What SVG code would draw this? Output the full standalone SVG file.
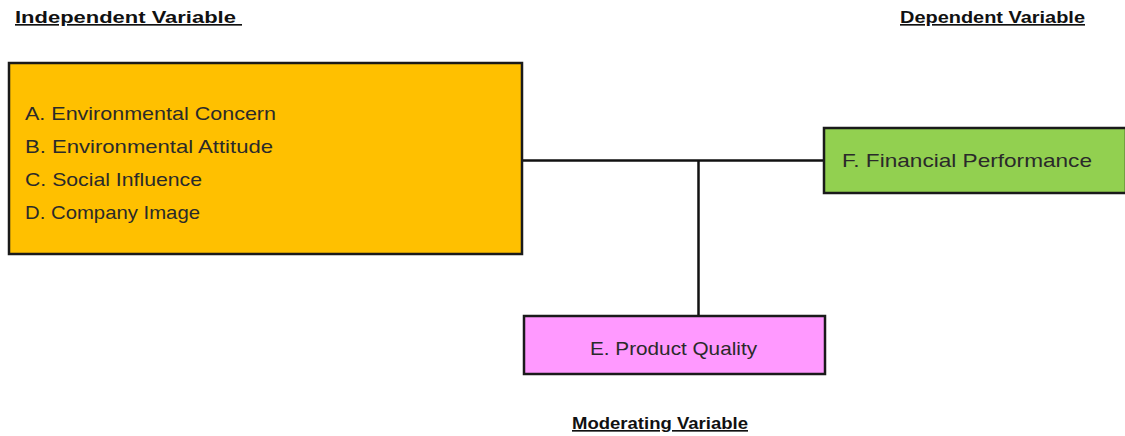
<svg xmlns="http://www.w3.org/2000/svg" width="1125" height="436" viewBox="0 0 1125 436">
<style>
.box{stroke:#1a1a1a;stroke-width:2.5}
.t{font-family:"Liberation Sans",Arial,sans-serif;font-size:19px;fill:#2a2a2a}
.h{font-family:"Liberation Sans",Arial,sans-serif;font-size:16.5px;font-weight:bold;fill:#111;text-decoration:underline}
.c{stroke:#111;stroke-width:2.5;fill:none}
</style>
<rect width="1125" height="436" fill="#fff"/>
<g id="headers">
<text class="h" x="15" y="23" textLength="227" lengthAdjust="spacingAndGlyphs">Independent Variable&#160;</text>
<text class="h" x="900" y="23" textLength="185" lengthAdjust="spacingAndGlyphs">Dependent Variable</text>
<text class="h" x="572" y="429" textLength="176" lengthAdjust="spacingAndGlyphs">Moderating Variable</text>
</g>
<g id="connectors">
<path class="c" d="M522 160.5 H824"/>
<path class="c" d="M698.5 160.5 V316"/>
</g>
<g id="node-independent">
<rect class="box" x="9" y="63" width="513" height="191" fill="#FFC000"/>
<text class="t" x="25" y="120" textLength="251" lengthAdjust="spacingAndGlyphs">A. Environmental Concern</text>
<text class="t" x="25" y="153" textLength="248" lengthAdjust="spacingAndGlyphs">B. Environmental Attitude</text>
<text class="t" x="25" y="186" textLength="177" lengthAdjust="spacingAndGlyphs">C. Social Influence</text>
<text class="t" x="25" y="219" textLength="175" lengthAdjust="spacingAndGlyphs">D. Company Image</text>
</g>
<g id="node-dependent">
<rect class="box" x="824" y="128" width="302" height="65" fill="#92D050"/>
<text class="t" x="842" y="167" textLength="250" lengthAdjust="spacingAndGlyphs">F. Financial Performance</text>
</g>
<g id="node-moderating">
<rect class="box" x="524" y="316" width="301" height="58" fill="#FF99FF"/>
<text class="t" x="590" y="355" textLength="167" lengthAdjust="spacingAndGlyphs">E. Product Quality</text>
</g>
</svg>
